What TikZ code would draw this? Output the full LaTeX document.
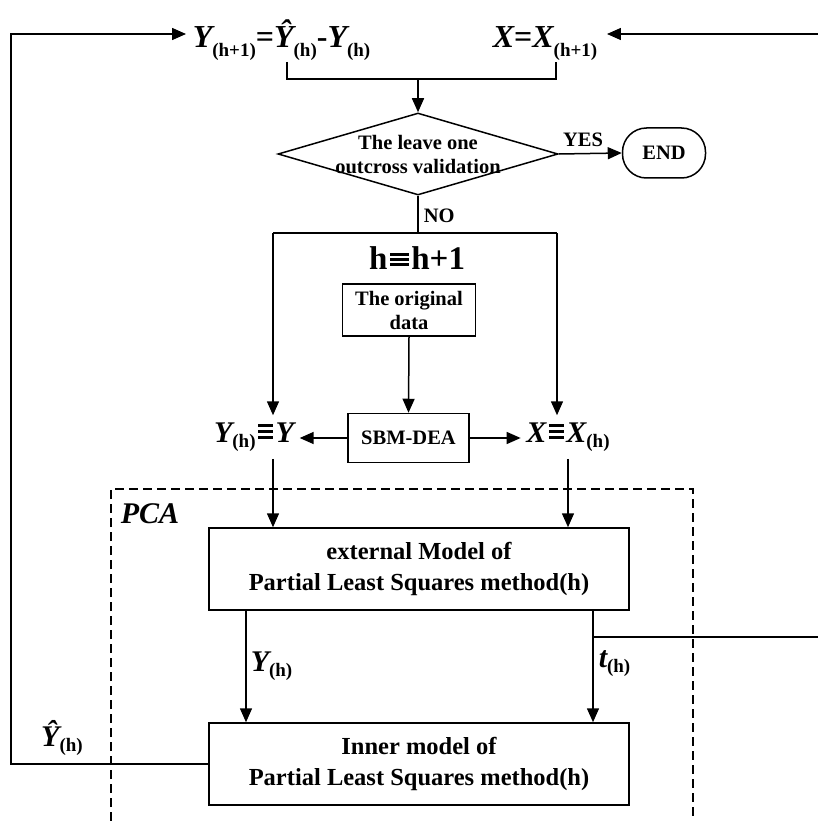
\documentclass[tikz,border=0pt]{standalone}
\usepackage{fontspec}
\setmainfont{Liberation Serif}
\usetikzlibrary{arrows.meta,shapes.geometric,calc}
\newcommand\vY{{\bfseries\itshape Y}}
\newcommand\vX{{\bfseries\itshape X}}
\newcommand\vYh{{\bfseries\itshape Ŷ}}
\newcommand\sbh[2][5pt]{\raisebox{-#1}{\fontsize{19}{19}\selectfont\bfseries\upshape #2}}
% three-bar identity sign: width, bar thickness, gap
\newcommand\eqvbars[3]{\kern2.5pt\raisebox{3pt}{\vbox{\hrule width #1 height #2\vskip #3\hrule width #1 height #2\vskip #3\hrule width #1 height #2}}\kern2.5pt}
\newcommand\eqv{\eqvbars{15pt}{3.4pt}{2.8pt}}
\begin{document}
\begin{tikzpicture}[x=1pt,y=-1pt, line width=1.5pt,
  arr/.style={-{Triangle[length=14pt,width=12pt]}},
  box/.style={draw, inner sep=0, align=center, font=\fontsize{20.5}{24}\selectfont\bfseries},
  bigbox/.style={draw, inner sep=0, minimum width=420, minimum height=82, align=center, font=\fontsize{24.5}{31}\selectfont\bfseries},
  lbl/.style={inner sep=0, font=\fontsize{20.5}{24}\selectfont\bfseries},
  mth/.style={inner sep=0, font=\fontsize{30}{30}\selectfont\bfseries},
  tmth/.style={inner ysep=0, font=\fontsize{32}{32}\selectfont\bfseries},
  ]
\useasboundingbox (0,0) rectangle (817,821);

% nodes
\node[tmth, anchor=base west, inner xsep=6] (ytop) at (186,48)
  {\vY\sbh[9pt]{(h+1)}=\vYh\sbh[9pt]{(h)}-\vY\sbh[9pt]{(h)}};
\node[tmth, anchor=base west, inner xsep=9] (xtop) at (483,48)
  {\vX=\vX\sbh[9pt]{(h+1)}};
\node[diamond, draw, minimum width=280, minimum height=82, inner sep=0] (dec) at (418,154) {};
\node[lbl, align=center] (dect) at (418,155) {The leave one\\outcross validation};
\node[draw, rounded corners=24, minimum width=83, minimum height=50, inner sep=0,
  font=\fontsize{20.5}{24}\selectfont\bfseries] (end) at (664,153) {END};
\node[lbl] (yes) at (583,140) {YES};
\node[lbl, anchor=west] (no) at (423,216) {NO};
\node[inner sep=0, font=\fontsize{33}{33}\selectfont\bfseries] (hh) at (417,258) {h\eqvbars{19pt}{3pt}{2.2pt}h+1};
\node[box, minimum width=133, minimum height=52] (orig) at (409,310) {The original\\data};
\node[box, minimum width=121, minimum height=49] (sbm) at (408.5,438) {SBM-DEA};
\node[mth, minimum height=42, inner xsep=5] (yh) at (254,437) {\vY\sbh{(h)}\eqv\vY};
\node[mth, minimum height=42, inner xsep=5] (xh) at (568,437) {\vX\eqv\vX\sbh{(h)}};
\node[bigbox] (ext) at (419,569) {external Model of\\Partial Least Squares method(h)};
\node[bigbox] (inn) at (419,764) {Inner model of\\Partial Least Squares method(h)};
\node[mth, anchor=west] (ylab) at (250,666) {\vY\sbh{(h)}};
\node[mth, anchor=west] (tlab) at (598,664) {{\itshape t}\sbh{(h)}};
\node[mth] (yhlab) at (62,738) {\vYh\sbh{(h)}};
\node[inner sep=0, font=\fontsize{30}{30}\selectfont\bfseries\itshape] (pca) at (150,514) {PCA};

% coordinates
\coordinate (bkl) at (287,62);
\coordinate (bkr) at (556,62);
\coordinate (bkm) at (418,79);
\coordinate (split) at (418,233);
\coordinate (bl) at (273,233);
\coordinate (br) at (557,233);
\coordinate (xd) at (568,0);
\coordinate (cl) at (246,0);
\coordinate (cr) at (593,0);
\coordinate (rt) at (818.5,637);
\coordinate (rtop) at (818.5,34);
\coordinate (ltop) at (11,34);

% connectors
\draw (bkl) -- ++(0,17) -| (bkr);
\draw[arr] (bkm) -- (dec.north);
\draw[arr] (dec.east) -- (end.west);
\draw (dec.south) -- (split);
\draw (bl) -- (br);
\draw[arr] (bl) -- (bl |- yh.north);
\draw[arr] (br) -- (br |- xh.north);
\draw[arr] (orig.south) -- (sbm.north);
\draw[arr] (sbm.west) -- (sbm.west -| yh.east);
\draw[arr] (sbm.east) -- (sbm.east -| xh.west);
\draw[arr] (yh.south -| bl) -- (bl |- ext.north);
\draw[arr] (xh.south -| xd) -- (xd |- ext.north);
\draw[arr] (ext.south -| cl) -- (cl |- inn.north);
\draw[arr] (ext.south -| cr) -- (cr |- inn.north);
\draw[arr] (cr |- rt) -- (rt) -- (rtop) -- (rtop -| xtop.east);
\draw[arr] (inn.west) -| (ltop) -- (ltop -| ytop.west);

% PCA region
\draw[line width=1.1pt, dash pattern=on 9pt off 5pt] (111,821) -- (111,489) -- (693,489) -- (693,821);
\end{tikzpicture}
\end{document}
